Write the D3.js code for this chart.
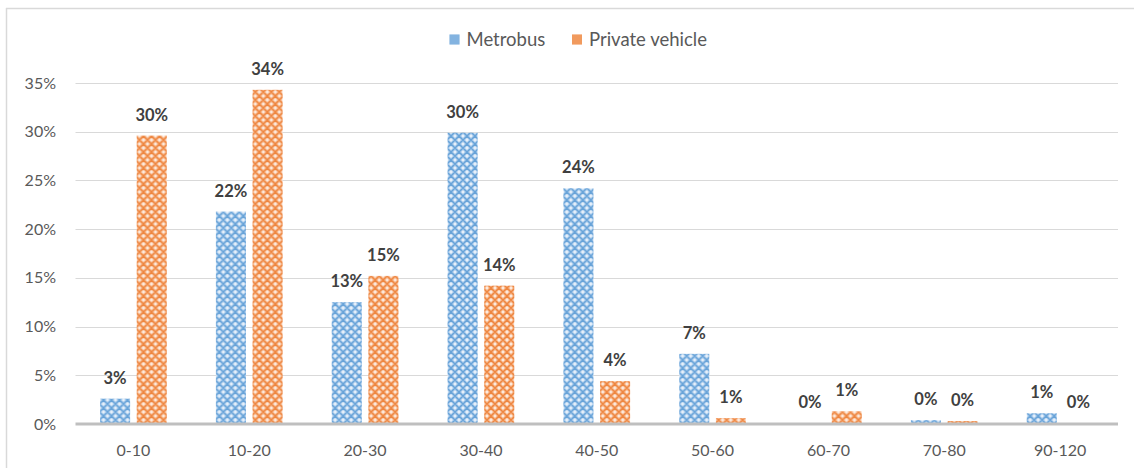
<!DOCTYPE html>
<html>
<head>
<meta charset="utf-8">
<script src="https://cdn.jsdelivr.net/npm/d3@7/dist/d3.min.js"></script>
<style>
  html, body { margin: 0; padding: 0; background: #fff; }
  svg { display: block; }
</style>
</head>
<body>
<svg id="chart" width="1134" height="468"></svg>
<script>
// Travel time bands (minutes) and share of trips for each mode
const categories = ["0-10", "10-20", "20-30", "30-40", "40-50", "50-60", "60-70", "70-80", "90-120"];
const seriesNames = ["Metrobus", "Private vehicle"];
const metrobus = [2.6, 21.8, 12.5, 29.9, 24.2, 7.2, 0.1, 0.4, 1.1];
const privateVehicle = [29.6, 34.3, 15.2, 14.2, 4.4, 0.6, 1.3, 0.3, 0.1];
const yTicks = [0, 5, 10, 15, 20, 25, 30, 35];

const W = 1134, H = 468;
const margin = { left: 75.5, right: 16, top: 83, bottom: 44 };
const svg = d3.select("#chart");

const colors = { "Metrobus": "#5b9bd5", "Private vehicle": "#ed7d31" };
const light = { "Metrobus": "#b4d1ee", "Private vehicle": "#f7bd96" };

// Lattice fill patterns for the bars
const defs = svg.append("defs");
seriesNames.forEach((name, i) => {
  const p = defs.append("pattern")
    .attr("id", "pat" + i)
    .attr("patternUnits", "userSpaceOnUse")
    .attr("width", 8).attr("height", 8);
  p.append("rect").attr("width", 8).attr("height", 8).attr("fill", light[name]);
  // darker diamond lattice
  p.append("path")
    .attr("d", "M0,4 L4,0 L8,4 L4,8 Z")
    .attr("fill", "none").attr("stroke", colors[name]).attr("stroke-width", 1.5)
    .attr("opacity", 0.85);
  // white crosses at lattice nodes
  p.append("path")
    .attr("d", "M4,2.5 V5.5 M2.5,4 H5.5 M0,0 H1.2 M0,0 V1.2 M8,8 H6.8 M8,8 V6.8 M8,0 H6.8 M8,0 V1.2 M0,8 H1.2 M0,8 V6.8")
    .attr("stroke", "#ffffff").attr("stroke-width", 1.2).attr("opacity", 0.85);
});

// Chart frame edges
svg.append("line").attr("x1", 6.5).attr("x2", 6.5).attr("y1", 8).attr("y2", H)
  .attr("stroke", "#d9d9d9").attr("stroke-width", 1.5);
svg.append("line").attr("x1", 6).attr("x2", W).attr("y1", 8.5).attr("y2", 8.5)
  .attr("stroke", "#d9d9d9").attr("stroke-width", 1.5);

const x0 = d3.scaleBand()
  .domain(categories)
  .range([margin.left, W - margin.right])
  .paddingInner(0).paddingOuter(0);

const x1 = d3.scaleBand()
  .domain(seriesNames)
  .range([0, x0.bandwidth()])
  .paddingInner(0.18).paddingOuter(0.67);

const y = d3.scaleLinear()
  .domain([0, 35])
  .range([H - margin.bottom, margin.top]);

// Horizontal gridlines
svg.append("g")
  .selectAll("line")
  .data(yTicks.filter(t => t > 0))
  .join("line")
  .attr("x1", margin.left).attr("x2", W - margin.right)
  .attr("y1", d => Math.round(y(d)) + 0.5).attr("y2", d => Math.round(y(d)) + 0.5)
  .attr("stroke", "#d9d9d9").attr("stroke-width", 1);

// Y axis labels
const yAxis = d3.axisLeft(y).tickValues(yTicks).tickFormat(d => d + "%").tickSize(0).tickPadding(0);
const gy = svg.append("g").attr("transform", `translate(56,0)`).call(yAxis);
gy.select(".domain").remove();
gy.selectAll("text")
  .attr("font-family", "Lato, 'Open Sans', sans-serif")
  .attr("font-size", "16px")
  .attr("fill", "#595959");

const data = categories.map((c, i) => ({
  cat: c,
  vals: [
    { name: "Metrobus", v: metrobus[i] },
    { name: "Private vehicle", v: privateVehicle[i] }
  ]
}));

const groups = svg.append("g").selectAll("g")
  .data(data)
  .join("g")
  .attr("transform", d => `translate(${x0(d.cat)},0)`);

groups.selectAll("rect")
  .data(d => d.vals)
  .join("rect")
  .attr("x", d => x1(d.name))
  .attr("width", x1.bandwidth())
  .attr("y", d => y(d.v))
  .attr("height", d => y(0) - y(d.v))
  .attr("fill", d => `url(#pat${seriesNames.indexOf(d.name)})`);

groups.selectAll("text")
  .data(d => d.vals)
  .join("text")
  .attr("x", d => x1(d.name) + x1.bandwidth() / 2)
  .attr("y", d => y(d.v) - 15)
  .attr("text-anchor", "middle")
  .attr("font-family", "Lato, 'Open Sans', sans-serif")
  .attr("font-weight", "bold")
  .attr("font-size", "16.5px")
  .attr("fill", "#404040")
  .text(d => Math.round(d.v) + "%");

// X axis line and category labels
svg.append("line")
  .attr("x1", margin.left).attr("x2", W - margin.right)
  .attr("y1", y(0)).attr("y2", y(0))
  .attr("stroke", "#bfbfbf").attr("stroke-width", 3);

const xAxis = d3.axisBottom(x0).tickSize(0).tickPadding(0);
const gx = svg.append("g").attr("transform", `translate(0,${y(0) + 32})`).call(xAxis);
gx.select(".domain").remove();
gx.selectAll("text")
  .attr("dy", 0)
  .attr("font-family", "Lato, 'Open Sans', sans-serif")
  .attr("font-size", "16px")
  .attr("fill", "#595959");

// Legend
const legendItems = [
  { name: "Metrobus", x: 449.5 },
  { name: "Private vehicle", x: 572 }
];
const lg = svg.append("g").selectAll("g")
  .data(legendItems)
  .join("g")
  .attr("transform", d => `translate(${d.x},34.5)`);
lg.append("rect")
  .attr("width", 10).attr("height", 10)
  .attr("fill", d => light[d.name]);
lg.append("rect")
  .attr("width", 10).attr("height", 10)
  .attr("fill", d => colors[d.name])
  .attr("opacity", 0.55);
lg.append("text")
  .attr("x", 17).attr("y", 11.5)
  .attr("font-family", "Lato, 'Open Sans', sans-serif")
  .attr("font-size", "18.5px")
  .attr("fill", "#595959")
  .text(d => d.name);
</script>
</body>
</html>
